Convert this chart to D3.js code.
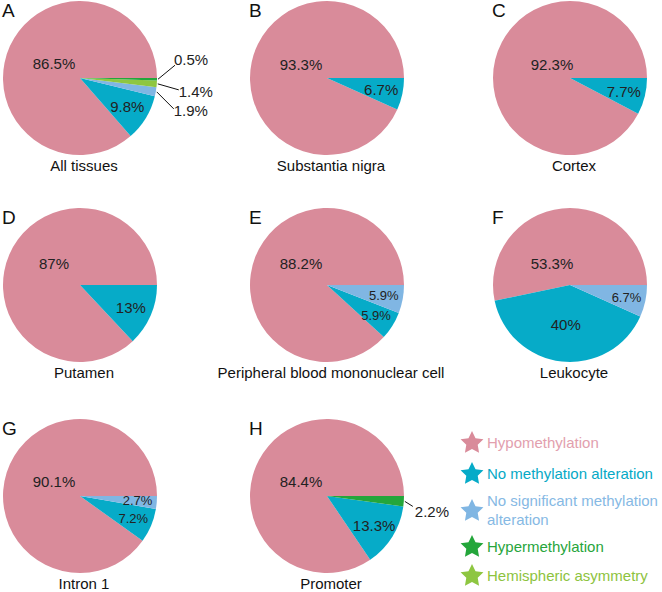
<!DOCTYPE html>
<html><head><meta charset="utf-8">
<script src="https://cdn.jsdelivr.net/npm/d3@7"></script>
<style>
html,body{margin:0;padding:0;background:#fff;}
svg{display:block;font-family:"Liberation Sans",Arial,sans-serif;}
</style></head>
<body><svg id="chart" width="662" height="592"></svg>
<script>
// ---- data ----
const categories = ["Hypomethylation","No methylation alteration","No significant methylation alteration","Hypermethylation","Hemispheric asymmetry"];
const panelLetters = ["A","B","C","D","E","F","G","H"];
const panelTitles = ["All tissues","Substantia nigra","Cortex","Putamen","Peripheral blood mononuclear cell","Leukocyte","Intron 1","Promoter"];
// values in category order: hypo, no alteration, no significant, hyper, hemispheric
const valuesA = [86.5, 9.8, 1.9, 0.5, 1.4];
const valuesB = [93.3, 6.7, 0, 0, 0];
const valuesC = [92.3, 7.7, 0, 0, 0];
const valuesD = [87, 13, 0, 0, 0];
const valuesE = [88.2, 5.9, 5.9, 0, 0];
const valuesF = [53.3, 40, 6.7, 0, 0];
const valuesG = [90.1, 7.2, 2.7, 0, 0];
const valuesH = [84.4, 13.3, 0, 2.2, 0];
const panelValues = [valuesA, valuesB, valuesC, valuesD, valuesE, valuesF, valuesG, valuesH];
const legendLines = [["Hypomethylation"],["No methylation alteration"],["No significant methylation","alteration"],["Hypermethylation"],["Hemispheric asymmetry"]];

// ---- styles / layout ----
const colors = ["#D98B9A","#06ABC8","#80B6E3","#24A63B","#8EC641"];
const legendTextColors = ["#E2A0AE","#06A9C6","#86B9E4","#27A53C","#8DC33E"];
const drawOrder = [0,1,2,4,3]; // counter-clockwise from 3 o'clock
const colX = [80, 327, 570];
const rowY = [78, 285, 496];
const R = 77;
// offset of the largest-slice label from the pie centre
const hypoOffset = [[-26,-15],[-26,-14],[-18,-14],[-26,-22],[-26,-22],[-18,-22],[-26,-15],[-26,-15]];
// outside labels: panel index, category index, leader end offset, text offset (from circle point)
const outside = [
  {p:0, c:3, line:[17,-14], text:[16,-20]},
  {p:0, c:4, line:[21,6], text:[21,8]},
  {p:0, c:2, line:[17,17], text:[17,19]},
  {p:7, c:3, line:[8,5], text:[10,10]}
];

const svg = d3.select("#chart");
const pie = d3.pie().sort(null).value(d => d.v)
  .startAngle(Math.PI/2).endAngle(Math.PI/2 - 2*Math.PI);
const arc = d3.arc().innerRadius(0).outerRadius(R);

panelValues.forEach((vals, i) => {
  const cx = colX[i % 3], cy = rowY[Math.floor(i / 3)];
  const g = svg.append("g").attr("transform", `translate(${cx},${cy})`);
  const items = drawOrder.map(c => ({c, v: vals[c]})).filter(d => d.v > 0);
  const arcs = pie(items);
  g.selectAll("path").data(arcs).join("path")
    .attr("d", arc).attr("fill", d => colors[d.data.c]);
  const nSlices = items.length;
  arcs.forEach(a => {
    const v = a.data.v, c = a.data.c;
    const mid = (a.startAngle + a.endAngle) / 2;
    const ux = Math.sin(mid), uy = -Math.cos(mid);
    const txt = v + "%";
    if (c === 0) {
      g.append("text").attr("x", hypoOffset[i][0]).attr("y", hypoOffset[i][1])
        .attr("text-anchor","middle").attr("dominant-baseline","central")
        .attr("font-size",15).attr("fill","#222").text(txt);
      return;
    }
    const o = outside.find(d => d.p === i && d.c === c);
    if (o) {
      const px = ux * (R + 1), py = uy * (R + 1);
      g.append("line").attr("x1", px).attr("y1", py)
        .attr("x2", px + o.line[0]).attr("y2", py + o.line[1])
        .attr("stroke","#111").attr("stroke-width",1);
      g.append("text").attr("x", px + o.text[0]).attr("y", py + o.text[1])
        .attr("dominant-baseline","central").attr("font-size",15)
        .attr("fill","#222").text(txt);
      return;
    }
    const small = v < 8 && nSlices > 2;
    const rr = c === 1 && v > 30 ? 40 : (small ? 0.75 * R : 0.72 * R);
    g.append("text").attr("x", ux * rr).attr("y", uy * rr)
      .attr("text-anchor","middle").attr("dominant-baseline","central")
      .attr("font-size", small ? 13 : 15).attr("fill","#222").text(txt);
  });
  g.append("text").attr("x", -78).attr("y", -61).attr("font-size",19)
    .attr("fill","#111").text(panelLetters[i]);
  g.append("text").attr("x", 4).attr("y", 93).attr("text-anchor","middle")
    .attr("font-size",15).attr("fill","#111").text(panelTitles[i]);
});

// legend
const legendY = [442, 473, 510, 546, 575];
const fatStar = {
  draw(ctx, size) {
    const ro = Math.sqrt(size) / 2, ri = ro * 0.5;
    for (let k = 0; k < 10; k++) {
      const r = k % 2 ? ri : ro, a = k * Math.PI / 5;
      const x = r * Math.sin(a), y = -r * Math.cos(a);
      if (k === 0) ctx.moveTo(x, y); else ctx.lineTo(x, y);
    }
    ctx.closePath();
  }
};
const star = d3.symbol().type(fatStar).size(576);
const lg = svg.append("g");
categories.forEach((cat, k) => {
  lg.append("path").attr("d", star)
    .attr("transform", `translate(472,${legendY[k] + 1})`)
    .attr("fill", colors[k]);
  const lines = legendLines[k];
  lines.forEach((ln, j) => {
    lg.append("text").attr("x", 487)
      .attr("y", legendY[k] + (j - (lines.length - 1) / 2) * 19)
      .attr("dominant-baseline","central").attr("font-size",15)
      .attr("fill", legendTextColors[k]).text(ln);
  });
});
</script></body></html>
